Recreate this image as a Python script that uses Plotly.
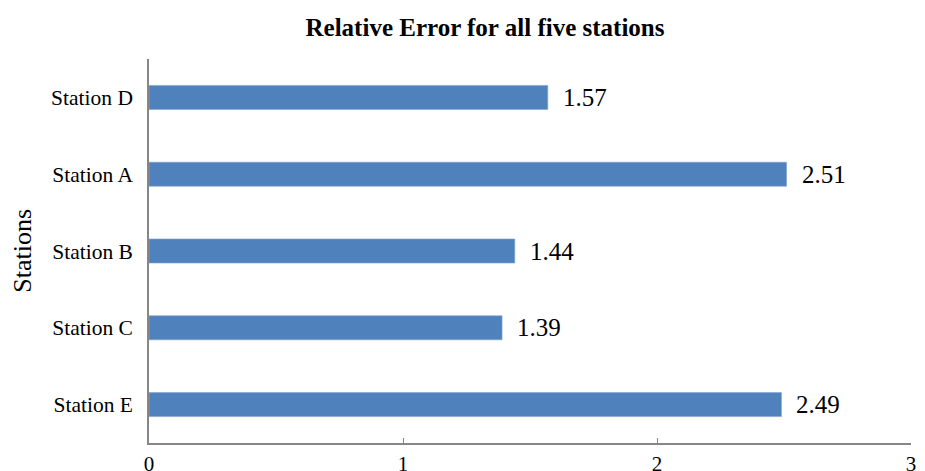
import plotly.graph_objects as go

# Relative error per station, listed top to bottom as drawn
stations = ["Station D", "Station A", "Station B", "Station C", "Station E"]
relative_error = [1.57, 2.51, 1.44, 1.39, 2.49]
x_ticks = [0, 1, 2, 3]

bar_color = "#4F81BD"
axis_color = "#868686"
serif = "Liberation Serif, Times New Roman, serif"

fig = go.Figure(
    go.Bar(
        x=relative_error,
        y=stations,
        orientation="h",
        marker=dict(color=bar_color, line=dict(color="#7FA2CF", width=0.6)),
        hoverinfo="x+y",
    )
)

# Value labels just right of each bar end
for name, val in zip(stations, relative_error):
    fig.add_annotation(
        x=val, y=name, xref="x", yref="y",
        text=f"{val:.2f}", showarrow=False,
        xanchor="left", yanchor="middle", xshift=13,
        font=dict(family=serif, size=25, color="#000000"),
    )

# Rotated y-axis title
fig.add_annotation(
    text="Stations", xref="paper", yref="paper",
    x=-0.167, y=0.5, xanchor="center", yanchor="middle",
    textangle=-90, showarrow=False,
    font=dict(family=serif, size=26, color="#000000"),
)

fig.update_layout(
    width=925,
    height=471,
    margin=dict(l=149, r=14, t=59, b=28),
    paper_bgcolor="white",
    plot_bgcolor="white",
    showlegend=False,
    bargap=0.687,
    title=dict(
        text="<b>Relative Error for all five stations</b>",
        x=485 / 925, xref="container", xanchor="center",
        y=1 - 27 / 471, yref="container", yanchor="middle",
        font=dict(family=serif, size=25, color="#000000"),
    ),
    xaxis=dict(
        range=[0, 3],
        tickvals=x_ticks,
        ticktext=[str(t) for t in x_ticks],
        showgrid=False,
        zeroline=False,
        showline=True,
        linecolor=axis_color,
        linewidth=1.5,
        ticks="inside",
        ticklen=5,
        tickwidth=1.2,
        tickcolor=axis_color,
        ticklabelstandoff=1,
        automargin=False,
        tickfont=dict(family=serif, size=21, color="#000000"),
    ),
    yaxis=dict(
        categoryorder="array",
        categoryarray=stations,
        autorange="reversed",
        showgrid=False,
        zeroline=False,
        showline=True,
        linecolor=axis_color,
        linewidth=1.5,
        ticks="",
        ticklabelstandoff=10,
        automargin=False,
        tickfont=dict(family=serif, size=21.5, color="#000000"),
    ),
)

fig.write_html("out.html")
